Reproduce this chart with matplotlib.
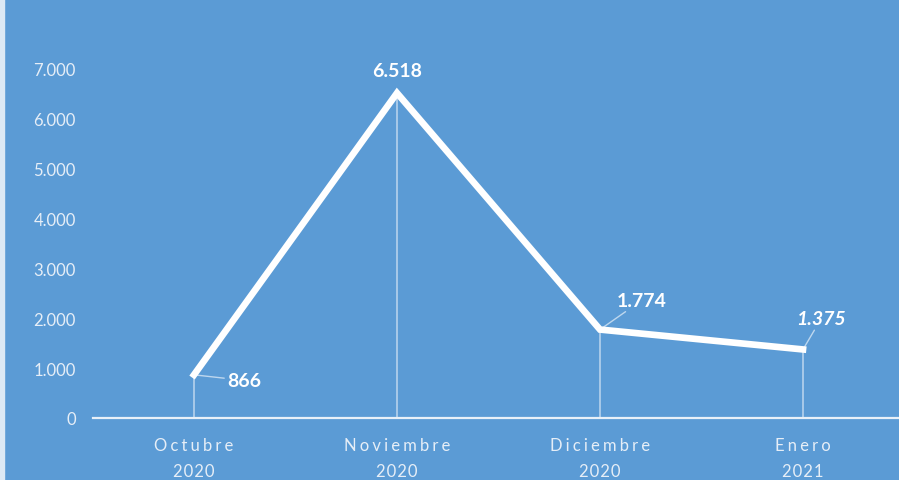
import matplotlib.pyplot as plt
from matplotlib.patches import Rectangle

# data
months = ['Octubre', 'Noviembre', 'Diciembre', 'Enero']
years = ['2020', '2020', '2020', '2021']
values = [866, 6518, 1774, 1375]
value_labels = ['866', '6.518', '1.774', '1.375']
y_ticks = [0, 1000, 2000, 3000, 4000, 5000, 6000, 7000]
y_tick_labels = ['0', '1.000', '2.000', '3.000', '4.000', '5.000', '6.000', '7.000']

bg = '#5b9bd5'
fam = ['Lato', 'DejaVu Sans']


def spaced(s, sep='\u2009\u200a'):
    # wide letter spacing like the original
    return sep.join(s)


fig = plt.figure(figsize=(8.99, 4.81), dpi=100, facecolor=bg)
fig.patches.append(Rectangle((0, 0), 4 / 899, 1, transform=fig.transFigure,
                             color='#dce9f5', zorder=0))

ax = fig.add_axes([92.5 / 899, 62 / 481, 812 / 899, 349 / 481])
ax.set_facecolor(bg)
x = list(range(len(values)))

ax.vlines(x, 0, values, color='white', alpha=0.55, lw=1.2, zorder=2)
ax.plot(x, values, color='white', lw=4.8, solid_joinstyle='miter', zorder=3,
        clip_on=False)

ax.set_xlim(-0.5, 3.5)
ax.set_ylim(0, 7000)
ax.set_yticks(y_ticks)
ax.set_yticklabels(y_tick_labels, family=fam, fontsize=12, color='#e6eef7')
ax.set_xticks(x)
ax.set_xticklabels([spaced(m) + '\n' + spaced(yr, '\u200a') for m, yr in zip(months, years)],
                   family=fam, fontsize=12, color='#e6eef7', linespacing=1.7)
ax.tick_params(length=0, pad=12)
ax.tick_params(axis='x', pad=14)
for s in ['top', 'right', 'left']:
    ax.spines[s].set_visible(False)
ax.spines['bottom'].set_color('#e8f0f8')
ax.spines['bottom'].set_linewidth(1.6)

# data labels: offsets in points, some with leader lines
offsets = [(36, -4), (0, 16), (30, 21), (13, 22)]
leaders = [True, False, True, True]
styles = ['normal', 'normal', 'normal', 'italic']
for i in range(len(values)):
    ap = None
    if leaders[i]:
        ap = dict(arrowstyle='-', color='white', alpha=0.6, lw=1,
                  shrinkA=0, shrinkB=0)
    ax.annotate(value_labels[i], (x[i], values[i]), xytext=offsets[i],
                textcoords='offset points', ha='center', va='center',
                family=fam, fontsize=14, fontweight='bold', style=styles[i],
                color='white', arrowprops=ap, zorder=4)

fig.savefig('out.png', dpi=100, facecolor=bg)
